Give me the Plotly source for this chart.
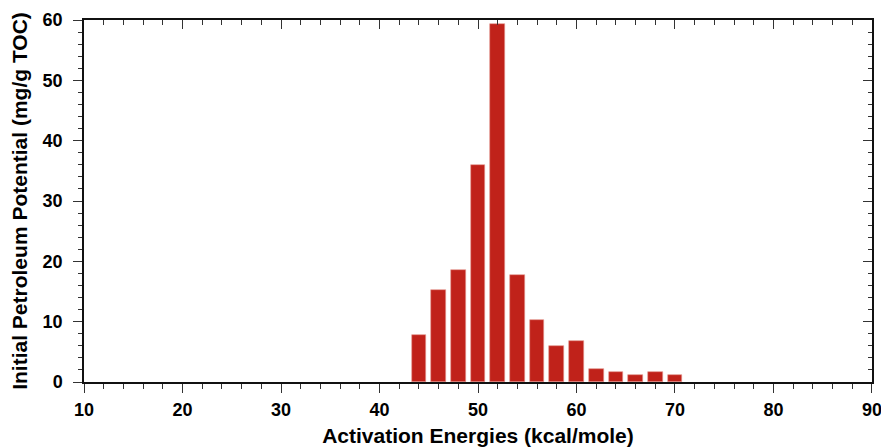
import plotly.graph_objects as go

energies = [44, 46, 48, 50, 52, 54, 56, 58, 60, 62, 64, 66, 68, 70]
potential = [7.8, 15.2, 18.5, 35.9, 59.3, 17.8, 10.2, 6.0, 6.8, 2.2, 1.6, 1.1, 1.6, 1.1]
x_ticks = [10, 20, 30, 40, 50, 60, 70, 80, 90]
y_ticks = [0, 10, 20, 30, 40, 50, 60]
x_title = "Activation Energies (kcal/mole)"
y_title = "Initial Petroleum Potential (mg/g TOC)"

FONT = "Liberation Sans, Arial, sans-serif"
BAR = "#c0221a"

fig = go.Figure()
fig.add_bar(x=energies, y=potential, width=1.5, marker_color=BAR,
            marker_line_color="#e49a92", marker_line_width=0.6, showlegend=False)
fig.add_scatter(x=[None], y=[None], xaxis="x2", yaxis="y2", showlegend=False, hoverinfo="skip")

tickfont = dict(family=FONT, size=18, color="#000", weight="bold")
titlefont = dict(family=FONT, size=21, color="#000", weight="bold")
common = dict(showgrid=False, zeroline=False, showline=True, linecolor="#111", linewidth=1.5,
              tickcolor="#333", tickwidth=1.3, automargin=False)

fig.update_layout(
    width=881, height=447,
    margin=dict(l=84, r=9, t=20, b=65),
    paper_bgcolor="white", plot_bgcolor="white",
    bargap=0,
    xaxis=dict(range=[10, 90.001], tickvals=x_ticks, ticks="outside", ticklen=9,
               minor=dict(dtick=2, ticks="outside", ticklen=5, tickcolor="#333", tickwidth=1.2),
               tickfont=tickfont, ticklabelstandoff=2, ticklabeloverflow="allow",
               title=dict(text=x_title, font=titlefont, standoff=12),
               **common),
    yaxis=dict(range=[0, 60.001], tickvals=y_ticks, ticks="outside", ticklen=9,
               minor=dict(dtick=2, ticks="outside", ticklen=4, tickcolor="#333", tickwidth=1.2),
               tickfont=tickfont, ticklabelstandoff=7, ticklabeloverflow="allow",
               title=dict(text=y_title, font=titlefont, standoff=9),
               **common),
    xaxis2=dict(overlaying="x", side="top", range=[10, 90.001], tickvals=x_ticks, ticks="inside", ticklen=9,
                minor=dict(dtick=2, ticks="inside", ticklen=5, tickcolor="#333", tickwidth=1.2),
                showticklabels=False, **common),
    yaxis2=dict(overlaying="y", side="right", range=[0, 60.001], tickvals=y_ticks, ticks="inside", ticklen=9,
                minor=dict(dtick=2, ticks="inside", ticklen=4, tickcolor="#333", tickwidth=1.2),
                showticklabels=False, **common),
)

fig.write_html("out.html", config={"displayModeBar": False},
               post_script="document.body.style.margin='0';document.body.style.overflow='hidden';")
